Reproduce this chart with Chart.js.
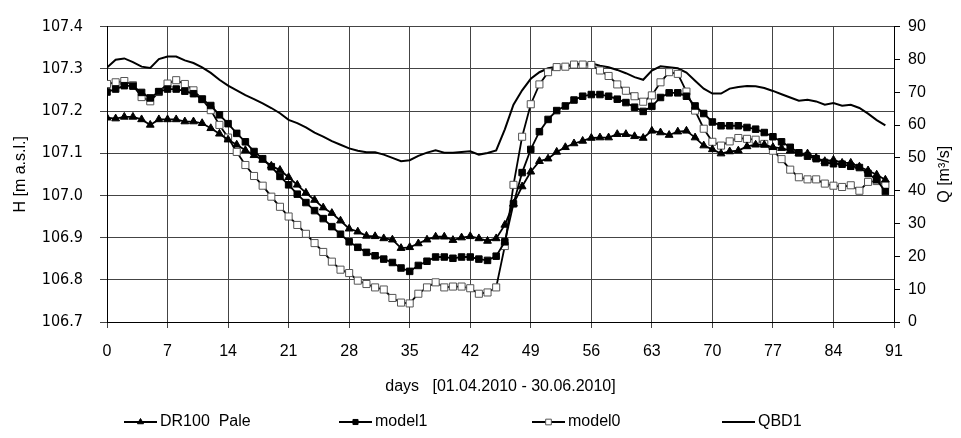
<!DOCTYPE html>
<html>
<head>
<meta charset="utf-8">
<script src="https://cdn.jsdelivr.net/npm/chart.js@4/dist/chart.umd.min.js"></script>
<style>
  html, body { margin: 0; padding: 0; background: #fff; }
  canvas { display: block; }
</style>
</head>
<body>
<canvas id="levelChart" width="961" height="438"></canvas>
<script>
// water level H [m a.s.l.], one value per day (day 0 .. 90)
const dr100Pale = [
  107.184, 107.182, 107.186, 107.186, 107.180, 107.167, 107.180, 107.180, 107.180, 107.175,
  107.175, 107.171, 107.159, 107.146, 107.132, 107.120, 107.107, 107.095, 107.084, 107.070,
  107.060, 107.043, 107.025, 107.006, 106.989, 106.971, 106.958, 106.940, 106.921, 106.914,
  106.904, 106.903, 106.898, 106.895, 106.875, 106.877, 106.886, 106.895, 106.902, 106.902,
  106.894, 106.900, 106.903, 106.898, 106.892, 106.898, 106.930, 106.980, 107.021, 107.056,
  107.081, 107.087, 107.103, 107.114, 107.123, 107.129, 107.136, 107.137, 107.137, 107.145,
  107.145, 107.140, 107.136, 107.153, 107.149, 107.143, 107.151, 107.153, 107.137, 107.118,
  107.109, 107.099, 107.104, 107.106, 107.116, 107.120, 107.120, 107.114, 107.112, 107.106,
  107.099, 107.099, 107.089, 107.081, 107.084, 107.077, 107.077, 107.068, 107.059, 107.049,
  107.037
];
const model1 = [
  107.245, 107.252, 107.260, 107.259, 107.244, 107.231, 107.246, 107.252, 107.252, 107.247,
  107.241, 107.228, 107.213, 107.191, 107.170, 107.147, 107.127, 107.104, 107.087, 107.068,
  107.045, 107.025, 107.003, 106.983, 106.964, 106.945, 106.926, 106.908, 106.890, 106.877,
  106.865, 106.857, 106.849, 106.841, 106.828, 106.820, 106.834, 106.844, 106.854, 106.854,
  106.851, 106.854, 106.854, 106.849, 106.846, 106.856, 106.890, 106.980, 107.054, 107.109,
  107.151, 107.180, 107.201, 107.212, 107.226, 107.235, 107.239, 107.239, 107.235, 107.228,
  107.220, 107.209, 107.199, 107.211, 107.232, 107.243, 107.243, 107.235, 107.212, 107.194,
  107.174, 107.165, 107.165, 107.165, 107.161, 107.157, 107.149, 107.139, 107.127, 107.114,
  107.101, 107.093, 107.087, 107.078, 107.075, 107.074, 107.069, 107.066, 107.052, 107.037,
  107.009
];
const model0 = [
  107.264, 107.268, 107.271, 107.261, 107.233, 107.223, 107.245, 107.265, 107.273, 107.264,
  107.249, 107.228, 107.202, 107.167, 107.137, 107.103, 107.072, 107.046, 107.023, 106.997,
  106.973, 106.950, 106.930, 106.909, 106.887, 106.866, 106.843, 106.824, 106.816, 106.798,
  106.790, 106.782, 106.777, 106.757, 106.746, 106.744, 106.767, 106.782, 106.794, 106.782,
  106.784, 106.784, 106.780, 106.767, 106.770, 106.782, 106.880, 107.025, 107.139, 107.216,
  107.263, 107.292, 107.304, 107.305, 107.310, 107.310, 107.309, 107.296, 107.283, 107.263,
  107.248, 107.235, 107.222, 107.237, 107.268, 107.292, 107.288, 107.246, 107.201, 107.158,
  107.127, 107.118, 107.128, 107.136, 107.134, 107.132, 107.122, 107.106, 107.086, 107.061,
  107.043, 107.038, 107.038, 107.028, 107.023, 107.020, 107.024, 107.011, 107.032, 107.034,
  107.025
];
// discharge Q [m3/s]
const qbd1 = [
  77.5, 79.9, 80.3, 79.2, 77.8, 77.4, 80.1, 80.9, 80.9, 79.7,
  78.9, 77.6, 75.9, 73.8, 72.0, 70.6, 69.1, 67.9, 66.6, 65.2,
  63.6, 61.6, 60.6, 59.3, 57.7, 56.5, 55.1, 54.0, 52.9, 52.2,
  51.7, 51.7, 51.0, 50.0, 49.0, 49.3, 50.6, 51.6, 52.3, 51.6,
  51.6, 51.8, 52.0, 51.0, 51.5, 52.3, 58.7, 66.2, 70.6, 74.1,
  76.1, 77.3, 77.8, 77.8, 78.6, 78.6, 78.8, 78.1, 77.6, 76.8,
  75.8, 74.6, 73.8, 76.6, 77.9, 77.6, 77.3, 76.0, 73.5, 71.1,
  69.6, 69.6, 71.1, 71.6, 71.9, 71.8, 71.3, 70.4, 69.4, 68.4,
  67.4, 67.7, 67.2, 66.2, 66.7, 65.9, 66.2, 65.2, 63.5, 61.5,
  59.9
];
const seriesNames = ['DR100  Pale', 'model1', 'model0', 'QBD1'];

const days = qbd1.map((_, i) => i);
const toPoints = vals => vals.map((v, i) => ({ x: days[i], y: v }));

const FONT = "'Liberation Sans', Arial, sans-serif";
const NARROW = "'Liberation Sans Narrow', 'Arial Narrow', 'DejaVu Sans Condensed', Arial, sans-serif";

// legend drawn as line + marker like the original
const lineLegend = {
  id: 'lineLegend',
  afterDraw(chart) {
    const ctx = chart.ctx;
    const starts = [124, 339, 532, 722];
    const y = 422;
    ctx.save();
    chart.data.datasets.forEach((ds, i) => {
      const x0 = starts[i];
      ctx.strokeStyle = ds.borderColor;
      ctx.lineWidth = ds.borderWidth;
      ctx.beginPath();
      ctx.moveTo(x0, y);
      ctx.lineTo(x0 + 33, y);
      ctx.stroke();
      if (ds.pointRadius > 0) {
        ctx.fillStyle = ds.pointBackgroundColor;
        ctx.strokeStyle = ds.pointBorderColor;
        ctx.lineWidth = 1;
        Chart.helpers.drawPoint(ctx, { pointStyle: ds.pointStyle, radius: ds.pointRadius - 1, rotation: 0, borderWidth: 1 }, x0 + 16.5, y);
      }
      ctx.fillStyle = '#000';
      ctx.font = '16px ' + FONT;
      ctx.textAlign = 'left';
      ctx.textBaseline = 'middle';
      ctx.fillText(ds.label, x0 + 36, y);
    });

    // right axis title, reading bottom to top
    const q = chart.scales.yQ;
    ctx.translate(945, (q.top + q.bottom) / 2);
    ctx.rotate(-Math.PI / 2);
    ctx.textAlign = 'center';
    ctx.fillText('Q [m³/s]', 0, 0);
    ctx.restore();
  }
};

new Chart(document.getElementById('levelChart'), {
  type: 'line',
  data: {
    datasets: [
      {
        label: seriesNames[0],
        data: toPoints(dr100Pale),
        yAxisID: 'y',
        borderColor: '#000',
        borderWidth: 1.8,
        pointStyle: 'triangle',
        pointRadius: 4.5,
        pointBackgroundColor: '#000',
        pointBorderColor: '#000',
        pointBorderWidth: 1
      },
      {
        label: seriesNames[1],
        data: toPoints(model1),
        yAxisID: 'y',
        borderColor: '#000',
        borderWidth: 1.8,
        pointStyle: 'rect',
        pointRadius: 4.6,
        pointBackgroundColor: '#000',
        pointBorderColor: '#000',
        pointBorderWidth: 1
      },
      {
        label: seriesNames[2],
        data: toPoints(model0),
        yAxisID: 'y',
        borderColor: '#000',
        borderWidth: 1.8,
        pointStyle: 'rect',
        pointRadius: 5,
        pointBackgroundColor: '#fff',
        pointBorderColor: '#555',
        pointBorderWidth: 1
      },
      {
        label: seriesNames[3],
        data: toPoints(qbd1),
        yAxisID: 'yQ',
        borderColor: '#000',
        borderWidth: 2,
        pointRadius: 0
      }
    ]
  },
  options: {
    responsive: false,
    animation: false,
    layout: { padding: { top: 20, bottom: 38, left: 0, right: 0 } },
    plugins: {
      legend: { display: false },
      tooltip: { enabled: false }
    },
    scales: {
      x: {
        type: 'linear',
        min: 0,
        max: 91,
        ticks: { stepSize: 7, color: '#000', font: { family: FONT, size: 16 }, padding: 14, maxRotation: 0 },
        grid: { color: '#444', tickLength: 6 },
        border: { color: '#000' },
        title: { display: true, text: 'days   [01.04.2010 - 30.06.2010]', color: '#000', font: { family: FONT, size: 16 }, padding: { top: 0, bottom: 4 } },
        afterFit: s => { s.height = 78; }
      },
      y: {
        position: 'left',
        min: 106.7,
        max: 107.4,
        ticks: { stepSize: 0.1, color: '#000', font: { family: NARROW, size: 16 }, padding: 17, callback: v => v.toFixed(1) },
        grid: { color: '#444', tickLength: 7 },
        border: { color: '#000' },
        title: { display: true, text: 'H [m a.s.l.]', color: '#000', font: { family: FONT, size: 16 }, padding: { top: 11, bottom: 0 } },
        afterFit: s => { s.width = 107; }
      },
      yQ: {
        position: 'right',
        min: 0,
        max: 90,
        ticks: { stepSize: 10, color: '#000', font: { family: FONT, size: 16 }, padding: 8 },
        grid: { drawOnChartArea: false, color: '#000', tickLength: 6 },
        border: { color: '#000' },
        afterFit: s => { s.width = 67; }
      }
    }
  },
  plugins: [lineLegend]
});
</script>
</body>
</html>
